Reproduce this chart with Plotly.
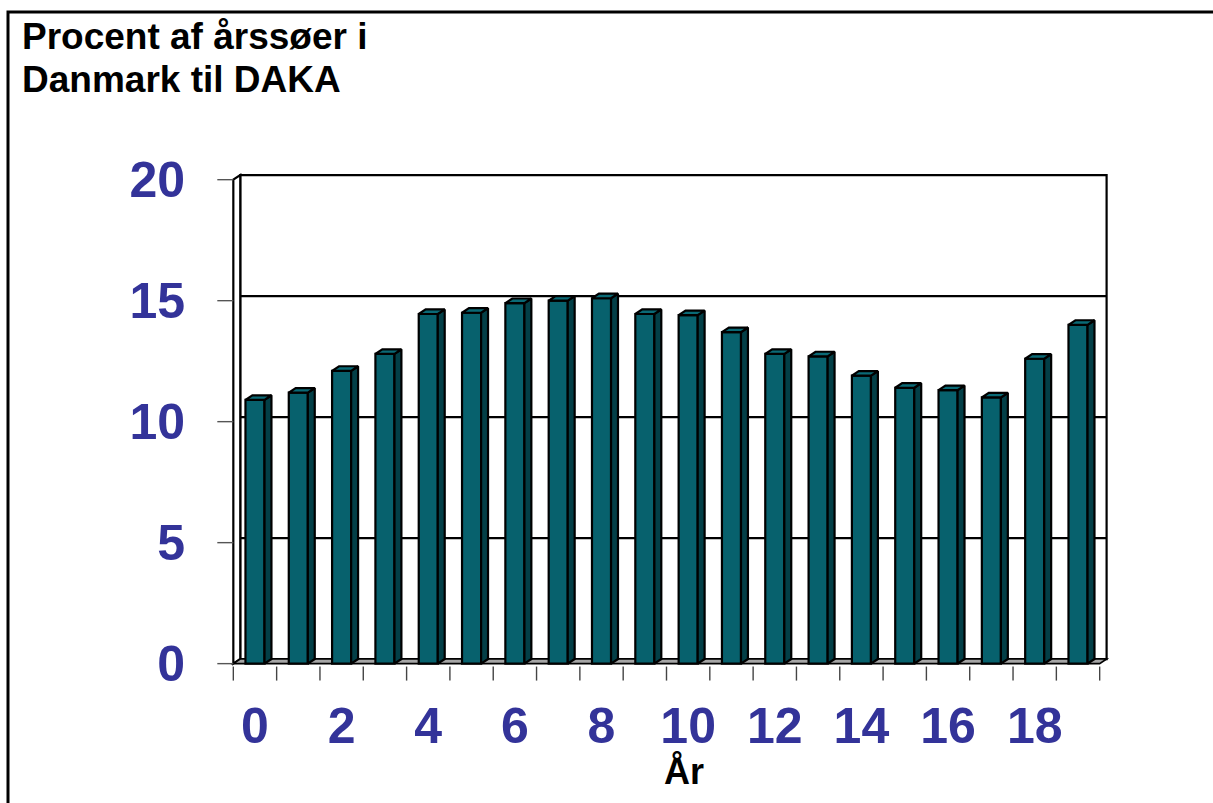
import plotly.graph_objects as go

# ---- data ----
years = list(range(20))
percent = [10.9, 11.2, 12.1, 12.8, 14.45, 14.5, 14.9, 15.0, 15.1, 14.45,
           14.4, 13.7, 12.8, 12.7, 11.9, 11.4, 11.3, 11.0, 12.6, 14.0]
x_tickvals = list(range(0, 20, 2))
x_ticktext = [str(v) for v in x_tickvals]
y_tickvals = [0, 5, 10, 15, 20]
y_ticktext = [str(v) for v in y_tickvals]
title_lines = ["Procent af årssøer i", "Danmark til DAKA"]
xaxis_title = "År"

# ---- style / geometry ----
W, H = 1213, 803
ML, MR, MT, MB = 216, 96, 170, 120
PW, PH = W - ML - MR, H - MT - MB
XR = [-0.9, 19.9]
YR = [-0.8, 20.4]
dx, dy = 0.16, 0.19          # 3-D depth offset (category units / value units)
bw = 0.44                    # bar front width
FRONT = "#07616D"
SIDE = "#033F47"
TOP = "#0A6A76"
BLUE = "#333399"
FONT = "Liberation Sans, Arial, sans-serif"
EDGE = 2.2

n = len(years)
x0, x1 = -0.5, n - 0.5
ymax = y_tickvals[-1]


def px_x(p):
    return (p - ML) / PW


def px_y(p):
    return (H - MB - p) / PH


def poly(xs, ys):
    return "M " + " L ".join(f"{a},{b}" for a, b in zip(xs, ys)) + " Z"


shapes = []
# back wall
shapes.append(dict(type="path", xref="x", yref="y", layer="below",
                   path=poly([x0 + dx, x1 + dx, x1 + dx, x0 + dx],
                             [dy, dy, ymax + dy, ymax + dy]),
                   fillcolor="white", line=dict(color="black", width=2.2)))
# left wall
shapes.append(dict(type="path", xref="x", yref="y", layer="below",
                   path=poly([x0, x0 + dx, x0 + dx, x0],
                             [0, dy, ymax + dy, ymax]),
                   fillcolor="white", line=dict(color="black", width=2.2)))
# gridlines on back wall
for v in y_tickvals[1:-1]:
    shapes.append(dict(type="line", xref="x", yref="y", layer="below",
                       x0=x0 + dx, x1=x1 + dx, y0=v + dy, y1=v + dy,
                       line=dict(color="black", width=2.2)))
# floor
shapes.append(dict(type="path", xref="x", yref="y", layer="below",
                   path=poly([x0, x1, x1 + dx, x0 + dx], [0, 0, dy, dy]),
                   fillcolor="#A6A6A6", line=dict(color="black", width=1.6)))
# outer border
shapes.append(dict(type="rect", xref="paper", yref="paper",
                   x0=px_x(8), x1=px_x(1240), y0=px_y(830), y1=px_y(12),
                   line=dict(color="black", width=3),
                   fillcolor="rgba(0,0,0,0)", layer="above"))

fig = go.Figure()

# y ticks (front plane)
tx, ty = [], []
for v in y_tickvals:
    tx += [x0 - 0.37, x0, None]
    ty += [v, v, None]
fig.add_trace(go.Scatter(x=tx, y=ty, mode="lines",
                         line=dict(color="#555555", width=1.4),
                         hoverinfo="skip", showlegend=False))

# x ticks (front plane)
kx, ky = [], []
for k in range(n + 1):
    kx += [k - 0.5, k - 0.5, None]
    ky += [-0.12, -0.7, None]
fig.add_trace(go.Scatter(x=kx, y=ky, mode="lines",
                         line=dict(color="#444444", width=1.4),
                         hoverinfo="skip", showlegend=False))

# bar front faces
fig.add_trace(go.Bar(
    x=years, y=percent, width=bw,
    marker=dict(color=FRONT, line=dict(color="black", width=EDGE)),
    hoverinfo="x+y", showlegend=False))

# bar side faces and tops
sx, sy, ux, uy = [], [], [], []
for c, v in zip(years, percent):
    xl, xr = c - bw / 2, c + bw / 2
    sx += [xr, xr + dx, xr + dx, xr, xr, None]
    sy += [0, dy, v + dy, v, 0, None]
    ux += [xl, xr, xr + dx, xl + dx, xl, None]
    uy += [v, v, v + dy, v + dy, v, None]
fig.add_trace(go.Scatter(x=sx, y=sy, mode="lines", fill="toself",
                         fillcolor=SIDE, line=dict(color="black", width=EDGE),
                         hoverinfo="skip", showlegend=False))
fig.add_trace(go.Scatter(x=ux, y=uy, mode="lines", fill="toself",
                         fillcolor=TOP, line=dict(color="black", width=EDGE),
                         hoverinfo="skip", showlegend=False))

fig.update_layout(
    width=W, height=H,
    margin=dict(l=ML, r=MR, t=MT, b=MB),
    paper_bgcolor="white", plot_bgcolor="white",
    font=dict(family=FONT, color="black"),
    barmode="overlay",
    xaxis=dict(range=XR, showgrid=False, zeroline=False, showline=False,
               tickvals=x_tickvals, ticktext=x_ticktext, ticks="",
               ticklabelstandoff=9,
               tickfont=dict(family=FONT, size=50, color=BLUE, weight="bold")),
    yaxis=dict(range=YR, showgrid=False, zeroline=False, showline=False,
               tickvals=y_tickvals, ticktext=y_ticktext, ticks="",
               ticklabelstandoff=30,
               tickfont=dict(family=FONT, size=50, color=BLUE, weight="bold")),
    shapes=shapes,
    annotations=[
        dict(text=title_lines[0], xref="paper", yref="paper",
             x=px_x(20), y=px_y(37), xanchor="left", yanchor="middle",
             showarrow=False,
             font=dict(family=FONT, size=37, color="black", weight="bold")),
        dict(text=title_lines[1], xref="paper", yref="paper",
             x=px_x(20), y=px_y(79), xanchor="left", yanchor="middle",
             showarrow=False,
             font=dict(family=FONT, size=37, color="black", weight="bold")),
        dict(text=xaxis_title, xref="paper", yref="paper",
             x=px_x(684), y=px_y(771), xanchor="center", yanchor="middle",
             showarrow=False,
             font=dict(family=FONT, size=36, color="black", weight="bold")),
    ],
)

fig.write_html("out.html",
               config={"displayModeBar": False},
               post_script="document.body.style.margin='0px';")
